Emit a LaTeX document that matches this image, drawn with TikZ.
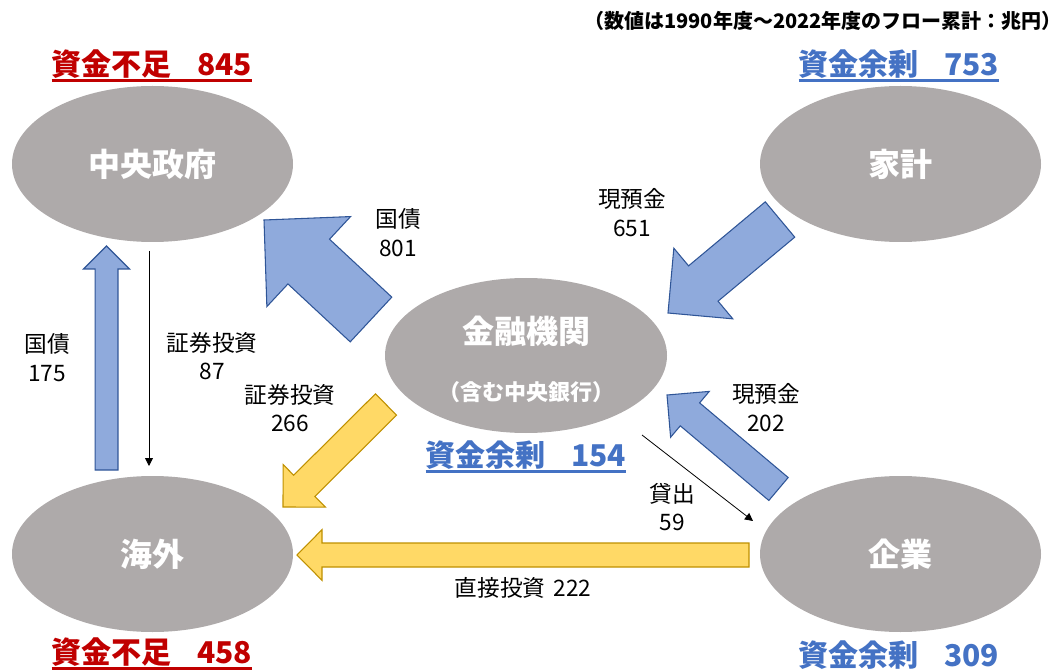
\documentclass[tikz,border=0pt]{standalone}
\usepackage{fontspec}
\setmainfont{Noto Sans CJK JP}
\usetikzlibrary{shapes.geometric,calc,arrows.meta}
\definecolor{ellgray}{HTML}{AEAAAA}
\definecolor{bluefill}{HTML}{8FAADC}
\definecolor{blueline}{HTML}{2F5597}
\definecolor{yelfill}{HTML}{FFD966}
\definecolor{yelline}{HTML}{BF9000}
\definecolor{redtxt}{HTML}{C00000}
\definecolor{bluetxt}{HTML}{4472C4}
\newcommand\blockarrow[6]{%
  \coordinate (ba-hb) at ($(#3)!#6!(#2)$);
  \draw[#1] ($(#2)!#4!90:(#3)$) -- ($(ba-hb)!#4!90:(#3)$) -- ($(ba-hb)!#5!90:(#3)$) -- (#3)
    -- ($(ba-hb)!#5!-90:(#3)$) -- ($(ba-hb)!#4!-90:(#3)$) -- ($(#2)!#4!-90:(#3)$) -- cycle;
}
\begin{document}
\begin{tikzpicture}[x=0.75pt,y=-0.75pt,
  ell/.style={ellipse, fill=ellgray, minimum width=210.75pt, minimum height=117pt, inner sep=0pt,
    text=white, font=\fontsize{24}{28}\selectfont\bfseries},
  lbl/.style={align=center, inner sep=0pt, font=\fontsize{17}{21.5}\selectfont},
  ttl/.style={inner sep=0pt, font=\fontsize{22.5}{27}\selectfont\bfseries},
  uline/.style={line width=2.2pt},
  bluearr/.style={fill=bluefill, draw=blueline, line width=0.8pt, line join=miter},
  yelarr/.style={fill=yelfill, draw=yelline, line width=0.8pt, line join=miter},
  thinarr/.style={draw=black, line width=0.6pt, -{Triangle[length=6pt,width=6pt]}},
]
\useasboundingbox (0,0) rectangle (1064,670);

% header note
\node[anchor=east, inner sep=0pt, font=\fontsize{15}{18}\selectfont\bfseries] (note) at (1062,21)
  {（数値は1990年度～2022年度のフロー累計：兆円）};

% ellipses
\node[ell] (gov) at (152.5,164) {中央政府};
\node[ell] (hh) at (900.5,164) {家計};
\node[ell, minimum width=211.5pt, minimum height=116.25pt] (fin) at (526,355.5) {};
\node[inner sep=0pt, text=white, font=\fontsize{24}{28}\selectfont\bfseries] (finA) at (526,331) {金融機関};
\node[inner sep=0pt, text=white, font=\fontsize{16.5}{20}\selectfont\bfseries] (finB) at (526,392) {（含む中央銀行）};
\node[ell] (frn) at (152.5,554) {海外};
\node[ell] (corp) at (900.5,554) {企業};

% titles
\node[ttl, text=redtxt] (t845) at (152,64) {資金不足\hspace{0.85em}845};
\draw[uline, redtxt] ($(t845.south west)+(0,2)$) -- ($(t845.south east)+(0,2)$);
\node[ttl, text=bluetxt] (t753) at (899,64) {資金余剰\hspace{0.85em}753};
\draw[uline, bluetxt] ($(t753.south west)+(0,2)$) -- ($(t753.south east)+(0,2)$);
\node[ttl, text=bluetxt] (t154) at (526,455) {資金余剰\hspace{0.85em}154};
\draw[uline, bluetxt] ($(t154.south west)+(0,2)$) -- ($(t154.south east)+(0,2)$);
\node[ttl, text=redtxt] (t458) at (152,652) {資金不足\hspace{0.85em}458};
\draw[uline, redtxt] ($(t458.south west)+(0,2)$) -- ($(t458.south east)+(0,2)$);
\node[ttl, text=bluetxt] (t309) at (899,655) {資金余剰\hspace{0.85em}309};

% block arrows
\coordinate (a801s) at (371,319.5); \coordinate (a801e) at (264,220);
\blockarrow{bluearr}{a801s}{a801e}{22.9pt}{46.1pt}{45.8pt}
\coordinate (a651s) at (780,219.5); \coordinate (a651e) at (668,313);
\blockarrow{bluearr}{a651s}{a651e}{17.25pt}{34.5pt}{34.5pt}
\coordinate (a175s) at (106.5,470); \coordinate (a175e) at (106.5,246);
\blockarrow{bluearr}{a175s}{a175e}{8.6pt}{17.25pt}{17.25pt}
\coordinate (a266s) at (386,404.5); \coordinate (a266e) at (283,507);
\blockarrow{yelarr}{a266s}{a266e}{11.25pt}{22.5pt}{22.5pt}
\coordinate (a202s) at (778.5,489); \coordinate (a202e) at (667,395);
\blockarrow{bluearr}{a202s}{a202e}{11.25pt}{22.5pt}{22.5pt}
\coordinate (a222s) at (749,555); \coordinate (a222e) at (297,555);
\blockarrow{yelarr}{a222s}{a222e}{9pt}{19pt}{18.75pt}

% thin arrows
\coordinate (a87s) at (149,251); \coordinate (a87e) at (149,466);
\draw[thinarr] (a87s) -- (a87e);
\coordinate (a59s) at (642,435); \coordinate (a59e) at (753,521);
\draw[thinarr] (a59s) -- (a59e);

% edge labels
\node[lbl] (l801) at (398,232.5) {国債\\801};
\node[lbl] (l651) at (632,212.5) {現預金\\651};
\node[lbl] (l175) at (47,357.5) {国債\\175};
\node[lbl] (l87) at (212,356) {証券投資\\87};
\node[lbl] (l266) at (290,408) {証券投資\\266};
\node[lbl] (l202) at (766,407.5) {現預金\\202};
\node[lbl] (l59) at (672,507) {貸出\\59};
\node[lbl] (l222) at (523,588) {直接投資\hspace{0.35em}222};
\end{tikzpicture}
\end{document}
